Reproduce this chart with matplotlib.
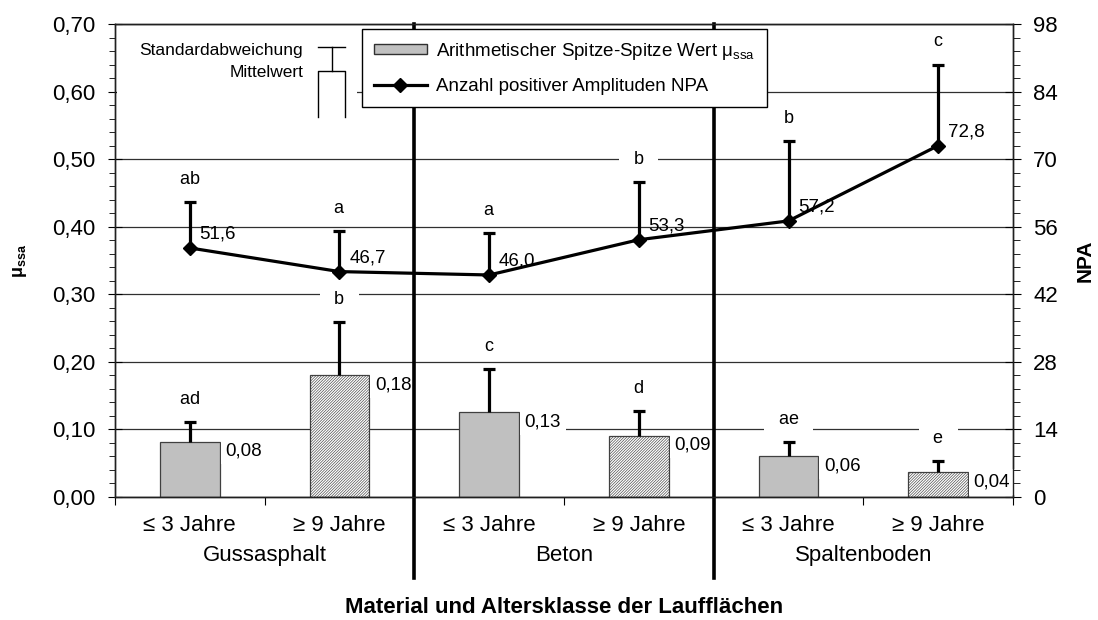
import numpy as np
import matplotlib
matplotlib.use('Agg')
import matplotlib.pyplot as plt
import matplotlib.transforms as mtransforms
from matplotlib.patches import Patch, Rectangle
from matplotlib.lines import Line2D
from matplotlib.ticker import FuncFormatter, MultipleLocator

plt.rcParams['font.family'] = ['Liberation Sans', 'DejaVu Sans']
plt.rcParams['mathtext.fontset'] = 'custom'
plt.rcParams['mathtext.rm'] = 'Liberation Sans'
plt.rcParams['mathtext.bf'] = 'Liberation Sans:bold'
plt.rcParams['hatch.color'] = '#cbcbcb'
plt.rcParams['hatch.linewidth'] = 0.45

# Data
age_labels = ['≤ 3 Jahre', '≥ 9 Jahre', '≤ 3 Jahre', '≥ 9 Jahre', '≤ 3 Jahre', '≥ 9 Jahre']
materials = ['Gussasphalt', 'Beton', 'Spaltenboden']

mu_ssa = [0.082, 0.180, 0.126, 0.091, 0.060, 0.037]
mu_sd = [0.029, 0.079, 0.063, 0.036, 0.021, 0.016]
mu_groups = ['ad', 'b', 'c', 'd', 'ae', 'e']

npa = [51.6, 46.7, 46.0, 53.3, 57.2, 72.8]
npa_sd = [9.5, 8.4, 8.7, 12.0, 16.5, 16.8]
npa_groups = ['ab', 'a', 'a', 'b', 'b', 'c']


def comma(v, digits):
    return f'{v:.{digits}f}'.replace('.', ',')


fig = plt.figure(figsize=(10.98, 6.2), dpi=100)
ax = fig.add_axes([0.1047, 0.1984, 0.8179, 0.7629])
ax2 = ax.twinx()

x = np.arange(len(mu_ssa))
white_box = dict(boxstyle='square,pad=0.25', fc='white', ec='none')

# bars: solid grey for young floors, finely hatched for old ones
for i in x:
    old = i % 2 == 1
    ax.bar(i, mu_ssa[i], width=0.4, color='white' if old else '#c0c0c0',
           hatch='////////////' if old else None, edgecolor='#404040',
           linewidth=0.9, zorder=2)
eb = ax.errorbar(x, mu_ssa, yerr=[np.zeros(len(x)), mu_sd], fmt='none', ecolor='black',
                 elinewidth=2.3, capsize=4.5, capthick=2.3, zorder=3)
eb[1][0].set_visible(False)  # only the upper cap

for i in x:
    ax.annotate(comma(mu_ssa[i], 2), (i + 0.2, mu_ssa[i]), xytext=(4, -7),
                textcoords='offset points', ha='left', va='center', fontsize=13.5,
                bbox=white_box, zorder=4)
    ax.annotate(f'  {mu_groups[i]}  ', (i, mu_ssa[i] + mu_sd[i]), xytext=(0, 13),
                textcoords='offset points', ha='center', va='baseline', fontsize=13,
                bbox=white_box, zorder=4)

ax.set_xlim(-0.5, 5.5)
ax.set_ylim(0, 0.7)
ax2.set_ylim(0, 98)

# NPA line with upward standard deviation
eb2 = ax2.errorbar(x, npa, yerr=[np.zeros(len(x)), npa_sd], color='black', linewidth=2.3,
                   marker='D', markersize=7, elinewidth=2.3, capsize=4.5, capthick=2.3,
                   zorder=5)
eb2[1][0].set_visible(False)
for i in x:
    ax2.annotate(comma(npa[i], 1), (i, npa[i]), xytext=(7, 10),
                 textcoords='offset points', ha='left', va='center', fontsize=13.5)
    ax2.annotate(f'  {npa_groups[i]}  ', (i, npa[i] + npa_sd[i]), xytext=(0, 13),
                 textcoords='offset points', ha='center', va='baseline', fontsize=13,
                 bbox=white_box, zorder=4)

# grid and axes
ax.set_axisbelow(True)
ax.yaxis.grid(True, color='#303030', linewidth=0.9)
for a in (ax, ax2):
    for s in a.spines.values():
        s.set_color('#202020')
        s.set_linewidth(1)

ax.yaxis.set_major_locator(MultipleLocator(0.1))
ax.yaxis.set_minor_locator(MultipleLocator(0.02))
ax.yaxis.set_major_formatter(FuncFormatter(lambda v, p: comma(v, 2)))
ax.tick_params(axis='y', which='major', direction='inout', length=10, labelsize=16, pad=9)
ax.tick_params(axis='y', which='minor', direction='out', length=4)

ax2.yaxis.set_major_locator(MultipleLocator(14))
ax2.yaxis.set_minor_locator(MultipleLocator(2.8))
ax2.tick_params(axis='y', which='major', direction='inout', length=11, labelsize=16, pad=9)
ax2.tick_params(axis='y', which='minor', direction='out', length=5)

ax.set_xticks(np.arange(-0.5, 6, 1.0))
ax.set_xticklabels([])
ax.set_xticks(x, labels=age_labels, minor=True)
ax.tick_params(axis='x', which='major', direction='out', length=6)
ax.tick_params(axis='x', which='minor', length=0, labelsize=16, pad=13)

data_axes = mtransforms.blended_transform_factory(ax.transData, ax.transAxes)
for j, name in enumerate(materials):
    ax.text(2 * j + 0.5, -0.123, name, transform=data_axes,
            ha='center', va='center', fontsize=16)

# material separators reaching into the label area
for xs in (1.5, 3.5):
    ax.plot([xs, xs], [1.0, -0.171], transform=data_axes, color='black',
            linewidth=2.6, clip_on=False, zorder=4.5)

ax.set_xlabel('Material und Altersklasse der Laufflächen', fontsize=16, fontweight='bold')
ax.xaxis.set_label_coords(0.5, -0.233)
ax.xaxis.label.set_va('center')
ax.set_ylabel(r'μ$_\mathbf{ssa}$', fontsize=13, fontweight='bold')
ax.yaxis.set_label_coords(-0.106, 0.5)
ax.yaxis.label.set_va('center')
ax2.set_ylabel('NPA', fontsize=15, fontweight='bold')
ax2.yaxis.set_label_coords(1.08, 0.5)
ax2.yaxis.label.set_va('center')

# key for mean / standard deviation
ax.add_patch(Rectangle((0.002, 0.797), 0.268, 0.19, transform=ax.transAxes,
                       fc='white', ec='none', zorder=1))
key = dict(transform=ax.transAxes, color='black', linewidth=1, zorder=3)
ax.plot([0.2261, 0.2561], [0.9514, 0.9514], **key)
ax.plot([0.2416, 0.2416], [0.9514, 0.9006], **key)
ax.plot([0.2261, 0.2261, 0.2561, 0.2561], [0.8034, 0.9006, 0.9006, 0.8034], **key)
ax.text(0.2094, 0.943, 'Standardabweichung', transform=ax.transAxes, ha='right',
        va='center', fontsize=12.5)
ax.text(0.2094, 0.8964, 'Mittelwert', transform=ax.transAxes, ha='right',
        va='center', fontsize=12.5)

handles = [Patch(facecolor='#c0c0c0', edgecolor='#303030', linewidth=1),
           Line2D([], [], color='black', linewidth=2.3, marker='D', markersize=7)]
leg = ax2.legend(handles, [r'Arithmetischer Spitze-Spitze Wert μ$_\mathregular{ssa}$',
                           'Anzahl positiver Amplituden NPA'],
                 loc='upper left', bbox_to_anchor=(0.2751, 0.99), borderaxespad=0,
                 fontsize=13.5, frameon=True, fancybox=False, framealpha=1,
                 edgecolor='black', handlelength=2.8, handleheight=0.45,
                 labelspacing=0.85, borderpad=0.65, handletextpad=0.5)
leg.get_frame().set_linewidth(1)
leg.set_zorder(10)

fig.savefig('out.png', dpi=100)
